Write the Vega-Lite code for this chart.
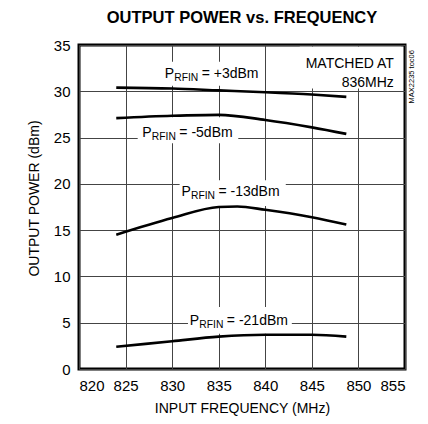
{
  "$schema": "https://vega.github.io/schema/vega-lite/v6.json",
  "autosize": {"type": "none"},
  "padding": {"left": 79, "top": 45, "right": 23, "bottom": 55},
  "width": 326,
  "height": 324,
  "background": "white",
  "title": {
    "text": "OUTPUT POWER vs. FREQUENCY",
    "font": "Liberation Sans",
    "fontSize": 16.5,
    "fontWeight": "bold",
    "color": "black",
    "anchor": "middle",
    "offset": 12
  },
  "config": {
    "view": {"stroke": "black", "strokeWidth": 3},
    "axis": {
      "labelFont": "Liberation Sans",
      "labelFontSize": 15,
      "labelColor": "black",
      "titleFont": "Liberation Sans",
      "titleFontSize": 14,
      "titleFontWeight": "normal",
      "titleColor": "black",
      "domain": false,
      "ticks": false,
      "grid": true,
      "gridColor": "#444444",
      "gridWidth": 1,
      "gridOpacity": 1
    }
  },
  "datasets": {
    "curves": [
      {"series": "+3", "freq": 824, "pout": 30.4},
      {"series": "+3", "freq": 830, "pout": 30.3},
      {"series": "+3", "freq": 835, "pout": 30.1},
      {"series": "+3", "freq": 840, "pout": 29.9},
      {"series": "+3", "freq": 845, "pout": 29.65},
      {"series": "+3", "freq": 848.7, "pout": 29.4},
      {"series": "-5", "freq": 824, "pout": 27.1},
      {"series": "-5", "freq": 830, "pout": 27.35},
      {"series": "-5", "freq": 835, "pout": 27.45},
      {"series": "-5", "freq": 840, "pout": 26.9},
      {"series": "-5", "freq": 845, "pout": 26.1},
      {"series": "-5", "freq": 848.7, "pout": 25.4},
      {"series": "-13", "freq": 824, "pout": 14.5},
      {"series": "-13", "freq": 830, "pout": 16.3},
      {"series": "-13", "freq": 835, "pout": 17.5},
      {"series": "-13", "freq": 837, "pout": 17.55},
      {"series": "-13", "freq": 840, "pout": 17.2},
      {"series": "-13", "freq": 845, "pout": 16.4},
      {"series": "-13", "freq": 848.7, "pout": 15.6},
      {"series": "-21", "freq": 824, "pout": 2.4},
      {"series": "-21", "freq": 830, "pout": 3.0},
      {"series": "-21", "freq": 835, "pout": 3.5},
      {"series": "-21", "freq": 840, "pout": 3.7},
      {"series": "-21", "freq": 845, "pout": 3.7},
      {"series": "-21", "freq": 848.7, "pout": 3.5}
    ],
    "labels": [
      {"x": 829.2, "y": 31.44, "rest": "= +3dBm", "bx1": 828.7, "bx2": 839.7, "by1": 33.2, "by2": 30.6},
      {"x": 826.8, "y": 25.05, "rest": "= -5dBm", "bx1": 826.3, "bx2": 837.1, "by1": 27.2, "by2": 24.4},
      {"x": 831.0, "y": 18.64, "rest": "= -13dBm", "bx1": 830.8, "bx2": 842.2, "by1": 20.4, "by2": 17.6},
      {"x": 831.9, "y": 4.78, "rest": "= -21dBm", "bx1": 831.7, "bx2": 842.85, "by1": 6.7, "by2": 3.8}
    ],
    "notes": [
      {"x": 853.8, "y": 32.54, "text": "MATCHED AT"},
      {"x": 853.8, "y": 30.49, "text": "836MHz"}
    ],
    "notebox": [
      {"bx1": 843.7, "bx2": 854.6, "by1": 34.8, "by2": 30.3}
    ],
    "code": [
      {"x": 855.73, "y": 31.57, "text": "MAX2235 toc06"}
    ]
  },
  "layer": [
    {
      "data": {"name": "labels"},
      "mark": {"type": "rect", "fill": "white"},
      "encoding": {
        "x": {"field": "bx1", "type": "quantitative", "scale": {"domain": [820, 855], "nice": false},
              "axis": {"values": [820, 825, 830, 835, 840, 845, 850, 855], "title": "INPUT FREQUENCY (MHz)", "labelPadding": 9, "titlePadding": 8}},
        "x2": {"field": "bx2"},
        "y": {"field": "by1", "type": "quantitative", "scale": {"domain": [0, 35], "nice": false},
              "axis": {"values": [0, 5, 10, 15, 20, 25, 30, 35], "title": "OUTPUT POWER (dBm)", "labelPadding": 9, "titlePadding": 12, "titleY": 153}},
        "y2": {"field": "by2"}
      }
    },
    {
      "data": {"name": "notebox"},
      "mark": {"type": "rect", "fill": "white"},
      "encoding": {
        "x": {"field": "bx1", "type": "quantitative"},
        "x2": {"field": "bx2"},
        "y": {"field": "by1", "type": "quantitative"},
        "y2": {"field": "by2"}
      }
    },
    {
      "data": {"name": "curves"},
      "mark": {"type": "line", "color": "black", "strokeWidth": 2.6, "interpolate": "monotone"},
      "encoding": {
        "x": {"field": "freq", "type": "quantitative"},
        "y": {"field": "pout", "type": "quantitative"},
        "detail": {"field": "series"}
      }
    },
    {
      "data": {"name": "labels"},
      "mark": {"type": "text", "align": "left", "baseline": "alphabetic", "font": "Liberation Sans", "fontSize": 14, "color": "black"},
      "encoding": {
        "x": {"field": "x", "type": "quantitative"},
        "y": {"field": "y", "type": "quantitative"},
        "text": {"value": "P"}
      }
    },
    {
      "data": {"name": "labels"},
      "mark": {"type": "text", "align": "left", "baseline": "alphabetic", "font": "Liberation Sans", "fontSize": 10.3, "color": "black", "dx": 9.5, "dy": 3},
      "encoding": {
        "x": {"field": "x", "type": "quantitative"},
        "y": {"field": "y", "type": "quantitative"},
        "text": {"value": "RFIN"}
      }
    },
    {
      "data": {"name": "labels"},
      "mark": {"type": "text", "align": "left", "baseline": "alphabetic", "font": "Liberation Sans", "fontSize": 14, "color": "black", "dx": 37},
      "encoding": {
        "x": {"field": "x", "type": "quantitative"},
        "y": {"field": "y", "type": "quantitative"},
        "text": {"field": "rest"}
      }
    },
    {
      "data": {"name": "notes"},
      "mark": {"type": "text", "align": "right", "baseline": "alphabetic", "font": "Liberation Sans", "fontSize": 14, "color": "black"},
      "encoding": {
        "x": {"field": "x", "type": "quantitative"},
        "y": {"field": "y", "type": "quantitative"},
        "text": {"field": "text"}
      }
    },
    {
      "data": {"name": "code"},
      "mark": {"type": "text", "align": "center", "baseline": "middle", "angle": 270, "font": "Liberation Sans", "fontSize": 7.5, "color": "black", "clip": false},
      "encoding": {
        "x": {"field": "x", "type": "quantitative"},
        "y": {"field": "y", "type": "quantitative"},
        "text": {"field": "text"}
      }
    }
  ]
}
